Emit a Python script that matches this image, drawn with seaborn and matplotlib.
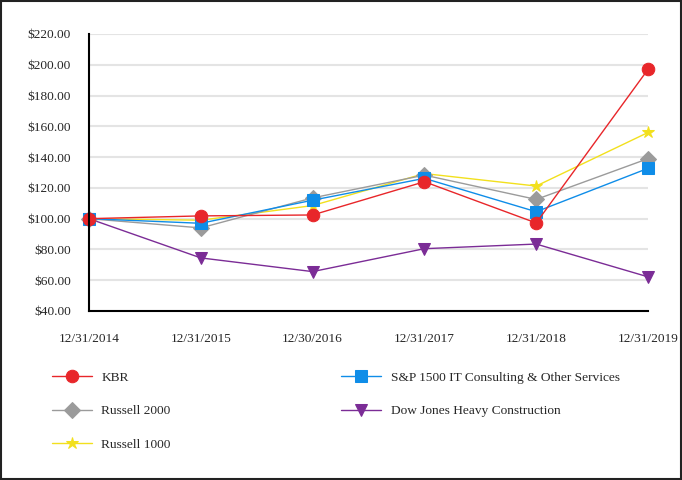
import pandas as pd
import matplotlib
matplotlib.use("Agg")
import matplotlib.pyplot as plt
import seaborn as sns
from matplotlib.patches import Rectangle

# --- DATA ---
dates = ["12/31/2014", "12/31/2015", "12/30/2016", "12/31/2017", "12/31/2018", "12/31/2019"]
kbr = [100.0, 101.8, 102.4, 124.0, 97.2, 197.0]
sp_it = [100.0, 97.0, 112.0, 126.2, 104.5, 132.7]
russell_2000 = [100.0, 94.0, 113.5, 128.3, 112.5, 139.0]
russell_1000 = [100.0, 99.0, 108.5, 129.3, 121.2, 156.0]
dj_heavy = [100.0, 74.5, 65.6, 80.5, 83.5, 62.2]
y_ticks = [40, 60, 80, 100, 120, 140, 160, 180, 200, 220]

series = [
    ("Dow Jones Heavy Construction", dj_heavy, "#7b2c96", "v", 8),
    ("Russell 1000", russell_1000, "#f2e01d", "*", 9),
    ("Russell 2000", russell_2000, "#9b9b9b", "D", 8),
    ("S&P 1500 IT Consulting & Other Services", sp_it, "#0f8de8", "s", 8),
    ("KBR", kbr, "#e8262a", "o", 9),
]

sns.set_style("white")
plt.rcParams["font.family"] = ["Liberation Serif", "DejaVu Serif"]
FS = 9.6

fig = plt.figure(figsize=(6.82, 4.8), dpi=100)
ax = fig.add_axes([89 / 682, (480 - 311) / 480, (648 - 89) / 682, (311 - 34) / 480])

for name, vals, color, mk, ms in series:
    df = pd.DataFrame({"x": range(len(dates)), "y": vals})
    sns.lineplot(data=df, x="x", y="y", ax=ax, color=color, marker=mk,
                 markersize=ms, markeredgecolor=color, linewidth=1.0,
                 label=name, clip_on=False)

ax.set_xlim(0, len(dates) - 1)
ax.set_ylim(40, 220)
ax.set_yticks(y_ticks)
ax.set_yticklabels([f"${v:.2f}" for v in y_ticks], fontsize=FS)
ax.set_xticks(range(len(dates)))
ax.set_xticklabels(dates, fontsize=FS)
ax.set_xlabel("")
ax.set_ylabel("")
ax.grid(axis="y", color="#e4e4e4", linewidth=1.5)
ax.set_axisbelow(True)
for s in ["top", "right"]:
    ax.spines[s].set_visible(False)
for s in ["left", "bottom"]:
    ax.spines[s].set_color("black")
    ax.spines[s].set_linewidth(1.5)
ax.tick_params(axis="x", direction="out", length=6, width=1, color="black", pad=10)
ax.tick_params(axis="y", length=0, pad=13)

# legend: row-wise order via column-first fill
h, l = ax.get_legend_handles_labels()
lookup = dict(zip(l, h))
order = ["KBR", "Russell 2000", "Russell 1000",
         "S&P 1500 IT Consulting & Other Services", "Dow Jones Heavy Construction"]
ax.legend([lookup[o] for o in order], order, ncol=2, frameon=False, fontsize=FS,
          loc="upper left", bbox_to_anchor=(-0.088, -0.175), handlelength=3.0,
          labelspacing=1.6, columnspacing=12.8, handletextpad=0.7)

fig.patches.append(Rectangle((0.002, 0.003), 0.996, 0.994, transform=fig.transFigure,
                             fill=False, edgecolor="#222222", linewidth=1.5))

fig.savefig("out.png", dpi=100)
